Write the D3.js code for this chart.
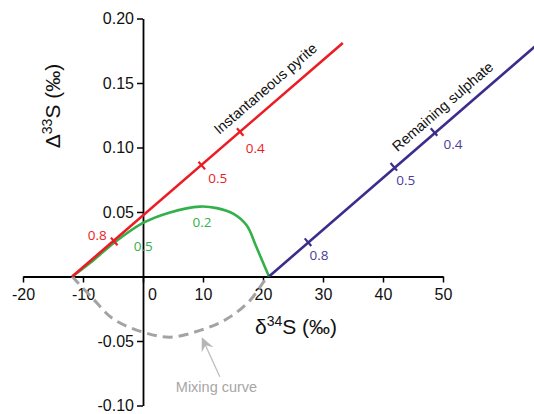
<!DOCTYPE html>
<html>
<head>
<meta charset="utf-8">
<script src="https://cdn.jsdelivr.net/npm/d3@7/dist/d3.min.js"></script>
<style>
  html, body { margin: 0; padding: 0; background: #fff; }
  svg { display: block; }
</style>
</head>
<body>
<svg id="chart" width="534" height="414"></svg>
<script>
// ---------------- data ----------------
const xTicks = [-20, -10, 0, 10, 20, 30, 40, 50];
const xTickLabels = ["-20", "-10", "0", "10", "20", "30", "40", "50"];
const yTicks = [-0.10, -0.05, 0.05, 0.10, 0.15, 0.20];
const yTickLabels = ["-0.10", "-0.05", "0.05", "0.10", "0.15", "0.20"];

// Instantaneous pyrite (Rayleigh line)
const pyriteX = [-11.8, 33.3];
const pyriteY = [0, 0.181];
// Remaining sulphate
const sulphateX = [21.0, 66.0];
const sulphateY = [0, 0.181];

// fraction markers (f) along each line
const pyriteMarkF = ["0.8", "0.5", "0.4"];
const pyriteMarkX = [-4.8, 9.8, 16.2];
const pyriteMarkY = [0.0272, 0.0860, 0.1120];
const sulphateMarkF = ["0.8", "0.5", "0.4"];
const sulphateMarkX = [27.5, 41.8, 48.5];
const sulphateMarkY = [0.0266, 0.0850, 0.1120];

// accumulated (mixed) pyrite – green curve
const greenX = [-11.8, -8.3, -4.8, 0, 4.5, 9.5, 12.3, 15.1, 17.3, 18.9, 21.0];
const greenY = [0, 0.0125, 0.0262, 0.0415, 0.0497, 0.0542, 0.0530, 0.0485, 0.0395, 0.0228, 0];
const greenMarkF = ["0.5", "0.2"];
const greenMarkX = [-4.8, 9.5];
const greenMarkY = [0.0262, 0.0542];

// mixing curve – grey dashed
const mixX = [-11.8, -8.3, -5.0, 0, 4.5, 9.5, 14.0, 17.8, 20.3, 21.0];
const mixY = [0, -0.0174, -0.0328, -0.0431, -0.047, -0.0418, -0.0328, -0.0187, -0.003, 0];

// annotation of mixing curve (arrow tail, arrow tip, label)
const arrowX = [12.8, 9.8];
const arrowY = [-0.0777, -0.0470];
const mixLabel = "Mixing curve";
const mixLabelX = 12.25, mixLabelY = -0.0892;

// ---------------- drawing ----------------
const svg = d3.select("#chart");
const x = d3.scaleLinear().domain([-20, 50]).range([23, 443]);
const y = d3.scaleLinear().domain([-0.10, 0.20]).range([405.5, 18.5]);

const RED = "#ec1c24", BLUE = "#3b2d8c", GREEN = "#34b04a", GREY = "#a3a3a3";
const FONT = "'Liberation Sans', Arial, sans-serif";
const SMALL = "'Open Sans', 'DejaVu Sans', sans-serif";

// axes
const xAxis = d3.axisBottom(x).tickValues(xTicks).tickSize(6).tickSizeOuter(0)
  .tickFormat((d, i) => xTickLabels[i]);
const gx = svg.append("g").attr("transform", `translate(0,${y(0)})`).call(xAxis);
gx.select(".domain").attr("stroke", "#000").attr("stroke-width", 1.8);
gx.selectAll(".tick line").attr("stroke", "#000").attr("stroke-width", 1.5);
gx.selectAll(".tick text").attr("font-family", FONT).attr("font-size", 16).attr("fill", "#111").attr("dy", "0.9em");
gx.selectAll(".tick text").filter(d => d === 0).attr("dx", 9);

const yAxis = d3.axisLeft(y).tickValues(yTicks).tickSize(6).tickSizeOuter(0)
  .tickFormat((d, i) => yTickLabels[i]);
const gy = svg.append("g").attr("transform", `translate(${x(0)},0)`).call(yAxis);
gy.select(".domain").attr("stroke", "#000").attr("stroke-width", 1.8);
gy.selectAll(".tick line").attr("stroke", "#000").attr("stroke-width", 1.5);
gy.selectAll(".tick text").attr("font-family", FONT).attr("font-size", 16).attr("fill", "#111").attr("x", -9);

// axis titles
const xt = svg.append("text").attr("x", 296).attr("y", 334).attr("text-anchor", "middle")
  .attr("font-family", FONT).attr("font-size", 21).attr("fill", "#111");
xt.append("tspan").text("δ");
xt.append("tspan").text("34").attr("font-size", 14).attr("dy", -8);
xt.append("tspan").text("S (‰)").attr("dy", 8);

const yt = svg.append("text").attr("transform", "translate(60,106) rotate(-90)").attr("text-anchor", "middle")
  .attr("font-family", FONT).attr("font-size", 21).attr("fill", "#111");
yt.append("tspan").text("Δ");
yt.append("tspan").text("33").attr("font-size", 14).attr("dy", -8);
yt.append("tspan").text("S (‰)").attr("dy", 8);

const zip = (xs, ys) => xs.map((v, i) => [v, ys[i]]);

// mixing curve (grey dashed)
svg.append("path").datum(zip(mixX, mixY))
  .attr("d", d3.line().x(d => x(d[0])).y(d => y(d[1])).curve(d3.curveCatmullRom.alpha(0.5)))
  .attr("fill", "none").attr("stroke", GREY).attr("stroke-width", 3)
  .attr("stroke-dasharray", "10,6");

// green curve
svg.append("path").datum(zip(greenX, greenY))
  .attr("d", d3.line().x(d => x(d[0])).y(d => y(d[1])).curve(d3.curveCatmullRom.alpha(0.5)))
  .attr("fill", "none").attr("stroke", GREEN).attr("stroke-width", 2.6);

// straight lines
function drawLine(xs, ys, color) {
  svg.append("path").datum(zip(xs, ys))
    .attr("d", d3.line().x(d => x(d[0])).y(d => y(d[1])))
    .attr("fill", "none").attr("stroke", color).attr("stroke-width", 2.6);
}
drawLine(pyriteX, pyriteY, RED);
drawLine(sulphateX, sulphateY, BLUE);

// marker ticks perpendicular to line
function drawMarks(lx, ly, mx, my, color) {
  const dx = x(lx[1]) - x(lx[0]), dy = y(ly[1]) - y(ly[0]);
  const L = Math.hypot(dx, dy);
  const nx = -dy / L, ny = dx / L;
  mx.forEach((v, i) => {
    const px = x(v), py = y(my[i]);
    svg.append("line")
      .attr("x1", px - nx * 5).attr("y1", py - ny * 5)
      .attr("x2", px + nx * 5).attr("y2", py + ny * 5)
      .attr("stroke", color).attr("stroke-width", 2.2);
  });
}
drawMarks(pyriteX, pyriteY, pyriteMarkX, pyriteMarkY, RED);
drawMarks(sulphateX, sulphateY, sulphateMarkX, sulphateMarkY, BLUE);

// marker labels
function markLabels(mx, my, labels, color, offs) {
  labels.forEach((t, i) => {
    svg.append("text").attr("x", x(mx[i]) + offs[i][0]).attr("y", y(my[i]) + offs[i][1])
      .attr("text-anchor", "middle").attr("dominant-baseline", "central")
      .attr("font-family", SMALL).attr("font-size", 13.5).attr("fill", color).text(t);
  });
}
markLabels(pyriteMarkX, pyriteMarkY, pyriteMarkF, RED, [[-17, -6], [16, 12], [15, 16]]);
markLabels(sulphateMarkX, sulphateMarkY, sulphateMarkF, "#4a3d98", [[11, 13], [12, 13], [19, 12]]);
markLabels(greenMarkX, greenMarkY, greenMarkF, GREEN, [[29, 3], [2, 15]]);

// rotated line titles
function lineTitle(lx, ly, atX, txt, offset) {
  const dx = x(lx[1]) - x(lx[0]), dy = y(ly[1]) - y(ly[0]);
  const ang = Math.atan2(dy, dx) * 180 / Math.PI;
  const t = (atX - lx[0]) / (lx[1] - lx[0]);
  const px = x(lx[0]) + dx * t, py = y(ly[0]) + dy * t;
  const L = Math.hypot(dx, dy);
  const nx = dy / L, ny = -dx / L;
  svg.append("text")
    .attr("transform", `translate(${px + nx * offset},${py + ny * offset}) rotate(${ang})`)
    .attr("font-family", FONT).attr("font-size", 14.5).attr("fill", "#111").text(txt);
}
lineTitle(pyriteX, pyriteY, 13.9, "Instantaneous pyrite", 11);
lineTitle(sulphateX, sulphateY, 43.5, "Remaining sulphate", 10);

// arrow for mixing curve
const ax0 = x(arrowX[0]), ay0 = y(arrowY[0]), ax1 = x(arrowX[1]), ay1 = y(arrowY[1]);
const aL = Math.hypot(ax1 - ax0, ay1 - ay0);
const ux = (ax1 - ax0) / aL, uy = (ay1 - ay0) / aL;
const vx = -uy, vy = ux;
svg.append("line").attr("x1", ax0).attr("y1", ay0)
  .attr("x2", ax1 - ux * 8).attr("y2", ay1 - uy * 8)
  .attr("stroke", "#bdbdbd").attr("stroke-width", 1.3);
const headLen = 14, headW = 6.5, notch = 9;
svg.append("path")
  .attr("d", `M${ax1},${ay1} L${ax1 - ux * headLen + vx * headW},${ay1 - uy * headLen + vy * headW} ` +
             `L${ax1 - ux * notch},${ay1 - uy * notch} ` +
             `L${ax1 - ux * headLen - vx * headW},${ay1 - uy * headLen - vy * headW} Z`)
  .attr("fill", "#b5b5b5");

svg.append("text").attr("x", x(mixLabelX)).attr("y", y(mixLabelY)).attr("text-anchor", "middle")
  .attr("font-family", FONT).attr("font-size", 14.5).attr("fill", "#a6a6a6").text(mixLabel);
</script>
</body>
</html>
